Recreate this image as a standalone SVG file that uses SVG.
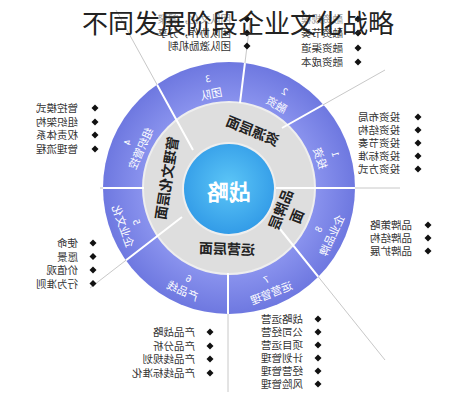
<svg xmlns="http://www.w3.org/2000/svg" width="476" height="400" viewBox="0 0 476 400">
<style>
.li{font-family:"Noto Sans CJK SC","Noto Sans",sans-serif;font-size:10.5px;fill:#333}
.fa{fill:#9a9a9a}
.rl{font-family:"Noto Sans CJK SC","Noto Sans",sans-serif;font-size:11px;fill:#fff;text-anchor:middle;dominant-baseline:central}
.rn{font-family:"Noto Sans CJK SC","Noto Sans",sans-serif;font-size:9.5px;fill:#fff;text-anchor:middle;dominant-baseline:central}
.gl{font-family:"Noto Sans CJK SC","Noto Sans",sans-serif;font-size:14px;font-weight:bold;fill:#222;text-anchor:middle;dominant-baseline:central}
.ext{stroke:#c8c8c8;stroke-width:1;fill:none}
.div{stroke:#fff;stroke-width:2;fill:none}
.title{font-family:"Noto Sans CJK SC","Noto Sans",sans-serif;font-size:26px;fill:#222;text-anchor:middle}
</style>
<defs>
<path id="d" d="M0,-3.5L3.5,0L0,3.5L-3.5,0Z" fill="#111"/>
<clipPath id="cr"><circle cx="247" cy="188" r="126"/></clipPath>
<radialGradient id="cg" cx="0.5" cy="0.45" r="0.6">
<stop offset="0" stop-color="#5cc6f7"/><stop offset="1" stop-color="#2f98e6"/>
</radialGradient>
<radialGradient id="og" cx="0.5" cy="0.5" r="0.5">
<stop offset="0.68" stop-color="#8a93ee"/><stop offset="1" stop-color="#6e78e0"/>
</radialGradient>
</defs>
<rect width="476" height="400" fill="#fff"/>
<g transform="matrix(-1 0 0 1 476 0)">
<g id="connectors">
<path class="ext" d="M283,150L360,10M236,103L226,22M194,128L91,70M201,188L76,188M204,219L91,360M248,273L248,392M294,217L386,288M332,188L376,188"/>
</g>
<g id="ring">
<circle cx="247" cy="188" r="126" fill="url(#og)"/>
<circle cx="247" cy="188" r="86" fill="#dedede" stroke="#eeeeee" stroke-width="2"/>
<path class="div" clip-path="url(#cr)" d="M283,150L360,10M236,103L226,22M194,128L91,70M201,188L76,188M204,219L91,360M248,273L248,392M294,217L386,288M332,188L376,188"/>
<circle cx="247" cy="189" r="47" fill="#eeeeee"/>
<circle cx="247" cy="189" r="45" fill="url(#cg)"/>
</g>
<g id="center"><text x="247" y="190" font-family="Noto Sans CJK SC,sans-serif" font-size="22" font-weight="bold" fill="#fff" text-anchor="middle" dominant-baseline="central">战略</text></g>
<g id="layers">
<text class="gl" transform="translate(223,130) rotate(-22.5)">资源层面</text>
<text class="gl" transform="translate(310,178) rotate(81)">管理文化层面</text>
<text class="gl" transform="translate(249,248) rotate(-2)">运营层面</text>
<text class="gl" transform="translate(196,209) rotate(68)">品牌层</text>
<text class="gl" transform="translate(180,216) rotate(68)">面</text>
</g>
<g id="seg1"><text class="rn" transform="translate(140,154) rotate(-72)">1</text><text class="rl" transform="translate(155,158) rotate(-72)">投资</text></g>
<g id="seg2"><text class="rn" transform="translate(191,91) rotate(-30)">2</text><text class="rl" transform="translate(199,104) rotate(-30)">融资</text></g>
<g id="seg3"><text class="rn" transform="translate(268,78) rotate(11)">3</text><text class="rl" transform="translate(265,93) rotate(11)">团队</text></g>
<g id="seg4"><text class="rn" transform="translate(349,142) rotate(66)">4</text><text class="rl" transform="translate(336,148) rotate(66)">组织管控</text></g>
<g id="seg5"><text class="rn" transform="translate(339,222) rotate(-70)">5</text><text class="rl" transform="translate(352,226) rotate(-70)">企业文化</text></g>
<g id="seg6"><text class="rn" transform="translate(287,278) rotate(-24)">6</text><text class="rl" transform="translate(293,290) rotate(-24)">产品线</text></g>
<g id="seg7"><text class="rn" transform="translate(210,279) rotate(22)">7</text><text class="rl" transform="translate(205,292) rotate(22)">运营管理</text></g>
<g id="seg8"><text class="rn" transform="translate(158,229) rotate(65)">8</text><text class="rl" transform="translate(145,235) rotate(65)">企业品牌</text></g>
<g id="list3">
<use href="#d" x="229" y="19"/><use href="#d" x="229" y="33"/><use href="#d" x="229" y="46"/>
<text class="li fa" x="245" y="23">团队文化，凝聚</text><text class="li" x="245" y="37">团队协作，分享</text><text class="li" x="245" y="50">团队激励机制</text>
</g>
<g id="list2">
<use href="#d" x="118" y="19"/><use href="#d" x="118" y="33"/><use href="#d" x="118" y="48"/><use href="#d" x="118" y="62"/>
<text class="li fa" x="133" y="23">融资规模</text><text class="li" x="133" y="37">融资节奏</text><text class="li" x="133" y="52">融资渠道</text><text class="li" x="133" y="66">融资成本</text>
</g>
<g id="list1">
<use href="#d" x="58" y="117"/><use href="#d" x="58" y="130"/><use href="#d" x="58" y="143"/><use href="#d" x="58" y="156"/><use href="#d" x="58" y="169"/>
<text class="li" x="76" y="121">投资布局</text><text class="li" x="76" y="134">投资结构</text><text class="li" x="76" y="147">投资节奏</text><text class="li" x="76" y="160">投资标准</text><text class="li" x="76" y="173">投资方式</text>
</g>
<g id="list8">
<use href="#d" x="48" y="225"/><use href="#d" x="48" y="238"/><use href="#d" x="48" y="251"/>
<text class="li" x="64" y="229">品牌策略</text><text class="li" x="64" y="242">品牌结构</text><text class="li" x="64" y="255">品牌扩展</text>
</g>
<g id="list4">
<use href="#d" x="381" y="108"/><use href="#d" x="381" y="122"/><use href="#d" x="381" y="135"/><use href="#d" x="381" y="149"/>
<text class="li" x="398" y="112">管控模式</text><text class="li" x="398" y="126">组织架构</text><text class="li" x="398" y="139">权责体系</text><text class="li" x="398" y="153">管理流程</text>
</g>
<g id="list5">
<use href="#d" x="383" y="243"/><use href="#d" x="383" y="256.5"/><use href="#d" x="383" y="270"/><use href="#d" x="383" y="283.5"/>
<text class="li" x="398" y="247">使命</text><text class="li" x="398" y="260.5">愿景</text><text class="li" x="398" y="274">价值观</text><text class="li" x="398" y="287.5">行为准则</text>
</g>
<g id="list6">
<use href="#d" x="266" y="332"/><use href="#d" x="266" y="346"/><use href="#d" x="266" y="359"/><use href="#d" x="266" y="373"/>
<text class="li" x="281" y="336">产品战略</text><text class="li" x="281" y="350">产品分析</text><text class="li" x="281" y="363">产品线规划</text><text class="li" x="281" y="377">产品线标准化</text>
</g>
<g id="list7">
<use href="#d" x="158" y="319"/><use href="#d" x="158" y="332"/><use href="#d" x="158" y="345"/><use href="#d" x="158" y="358"/><use href="#d" x="158" y="371"/><use href="#d" x="158" y="384"/>
<text class="li" x="173" y="323">战略运营</text><text class="li" x="173" y="336">公司经营</text><text class="li" x="173" y="349">项目运营</text><text class="li" x="173" y="362">计划管理</text><text class="li" x="173" y="375">经营管理</text><text class="li" x="173" y="388">风险管理</text>
</g>
</g>
<g id="title"><text class="title" x="238" y="33">不同发展阶段企业文化战略</text></g>
</svg>
